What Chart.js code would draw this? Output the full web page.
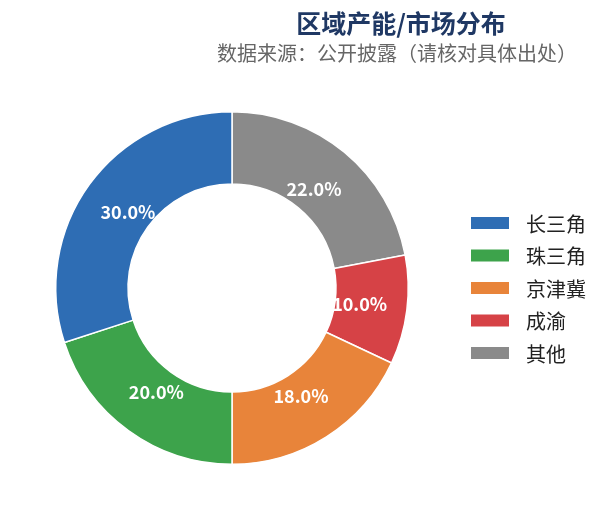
<!DOCTYPE html>
<html>
<head>
<meta charset="utf-8">
<script src="https://cdn.jsdelivr.net/npm/chart.js@4.4.1/dist/chart.umd.min.js"></script>
<style>
html,body{margin:0;padding:0;background:#fff;}
#c{display:block;}
</style>
</head>
<body>
<canvas id="c" width="605" height="520"></canvas>
<script>
const categories = ['长三角', '珠三角', '京津冀', '成渝', '其他'];
const shares = [30, 20, 18, 10, 22];
const colors = ['#2E6DB4', '#3DA34B', '#E8843A', '#D64246', '#8A8A8A'];
const titleText = '区域产能/市场分布';
const subtitleText = '数据来源：公开披露（请核对具体出处）';

const FONT = '"Noto Sans CJK SC", "Noto Sans", sans-serif';

// Reference runs counter-clockwise from 12 o'clock; Chart.js runs clockwise,
// so feed the slices in reverse order.
const dataLabels = categories.slice().reverse();
const dataValues = shares.slice().reverse();
const dataColors = colors.slice().reverse();

const textPlugin = {
  id: 'texts',
  afterDraw(chart) {
    const ctx = chart.ctx;
    ctx.save();
    // title
    ctx.textAlign = 'center';
    ctx.textBaseline = 'middle';
    ctx.fillStyle = '#1F3864';
    ctx.font = 'bold 25px ' + FONT;
    ctx.fillText(titleText, 401, 23);
    ctx.fillStyle = '#666666';
    ctx.font = '20px ' + FONT;
    ctx.fillText(subtitleText, 397, 53);

    // legend (original order)
    ctx.textAlign = 'left';
    ctx.font = '20px ' + FONT;
    const rowH = 32.5;
    const y0 = 223;
    categories.forEach((name, i) => {
      const y = y0 + i * rowH;
      ctx.fillStyle = colors[i];
      ctx.fillRect(471, y - 6, 38, 12);
      ctx.fillStyle = '#222222';
      ctx.fillText(name, 526, y + 1);
    });

    // percentage labels
    const meta = chart.getDatasetMeta(0);
    const total = dataValues.reduce((a, b) => a + b, 0);
    ctx.textAlign = 'center';
    ctx.font = 'bold 18px ' + FONT;
    ctx.fillStyle = '#ffffff';
    meta.data.forEach((arc, i) => {
      const p = arc.getProps(['x', 'y', 'startAngle', 'endAngle', 'outerRadius'], true);
      const mid = (p.startAngle + p.endAngle) / 2;
      const r = p.outerRadius * 0.73;
      const pct = (dataValues[i] / total * 100).toFixed(1) + '%';
      ctx.fillText(pct, p.x + Math.cos(mid) * r, p.y + Math.sin(mid) * r);
    });
    ctx.restore();
  }
};

new Chart(document.getElementById('c'), {
  type: 'doughnut',
  data: {
    labels: dataLabels,
    datasets: [{
      data: dataValues,
      backgroundColor: dataColors,
      borderColor: '#ffffff',
      borderWidth: 1.5
    }]
  },
  options: {
    responsive: false,
    animation: false,
    devicePixelRatio: 1,
    cutout: '59%',
    rotation: 0,
    layout: { padding: { left: 55, right: 196, top: 111, bottom: 55 } },
    plugins: {
      legend: { display: false },
      title: { display: false },
      tooltip: { enabled: false }
    }
  },
  plugins: [textPlugin]
});
</script>
</body>
</html>
